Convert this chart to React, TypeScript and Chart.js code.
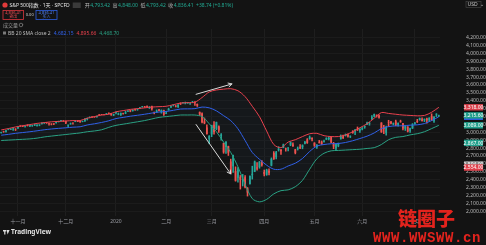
import React, { useEffect, useRef } from 'react';
import { Chart, registerables } from 'chart.js';

Chart.register(...registerables);

// ---------- DATA ----------
const dates: string[] = [
  '2019-10-23','2019-10-24','2019-10-25','2019-10-28','2019-10-29','2019-10-30','2019-10-31',
  '2019-11-01','2019-11-04','2019-11-05','2019-11-06','2019-11-07','2019-11-08','2019-11-11','2019-11-12','2019-11-13','2019-11-14','2019-11-15','2019-11-18','2019-11-19','2019-11-20','2019-11-21','2019-11-22','2019-11-25','2019-11-26','2019-11-27','2019-11-29',
  '2019-12-02','2019-12-03','2019-12-04','2019-12-05','2019-12-06','2019-12-09','2019-12-10','2019-12-11','2019-12-12','2019-12-13','2019-12-16','2019-12-17','2019-12-18','2019-12-19','2019-12-20','2019-12-23','2019-12-24','2019-12-26','2019-12-27','2019-12-30','2019-12-31',
  '2020-01-02','2020-01-03','2020-01-06','2020-01-07','2020-01-08','2020-01-09','2020-01-10','2020-01-13','2020-01-14','2020-01-15','2020-01-16','2020-01-17','2020-01-21','2020-01-22','2020-01-23','2020-01-24','2020-01-27','2020-01-28','2020-01-29','2020-01-30','2020-01-31',
  '2020-02-03','2020-02-04','2020-02-05','2020-02-06','2020-02-07','2020-02-10','2020-02-11','2020-02-12','2020-02-13','2020-02-14','2020-02-18','2020-02-19','2020-02-20','2020-02-21','2020-02-24','2020-02-25','2020-02-26','2020-02-27','2020-02-28',
  '2020-03-02','2020-03-03','2020-03-04','2020-03-05','2020-03-06','2020-03-09','2020-03-10','2020-03-11','2020-03-12','2020-03-13','2020-03-16','2020-03-17','2020-03-18','2020-03-19','2020-03-20','2020-03-23','2020-03-24','2020-03-25','2020-03-26','2020-03-27','2020-03-30','2020-03-31',
  '2020-04-01','2020-04-02','2020-04-03','2020-04-06','2020-04-07','2020-04-08','2020-04-09','2020-04-13','2020-04-14','2020-04-15','2020-04-16','2020-04-17','2020-04-20','2020-04-21','2020-04-22','2020-04-23','2020-04-24','2020-04-27','2020-04-28','2020-04-29','2020-04-30',
  '2020-05-01','2020-05-04','2020-05-05','2020-05-06','2020-05-07','2020-05-08','2020-05-11','2020-05-12','2020-05-13','2020-05-14','2020-05-15','2020-05-18','2020-05-19','2020-05-20','2020-05-21','2020-05-22','2020-05-26','2020-05-27','2020-05-28','2020-05-29',
  '2020-06-01','2020-06-02','2020-06-03','2020-06-04','2020-06-05','2020-06-08','2020-06-09','2020-06-10','2020-06-11','2020-06-12','2020-06-15','2020-06-16','2020-06-17','2020-06-18','2020-06-19','2020-06-22','2020-06-23','2020-06-24','2020-06-25','2020-06-26','2020-06-29','2020-06-30',
  '2020-07-01','2020-07-02','2020-07-06','2020-07-07','2020-07-08','2020-07-09','2020-07-10','2020-07-13','2020-07-14','2020-07-15','2020-07-16',
];

const opens: number[] = [
  2994.0, 3014.8, 3003.3, 3032.1, 3035.4, 3039.7, 3046.9,
  3050.7, 3078.9, 3080.8, 3075.1, 3087.0, 3081.3, 3080.3, 3089.3, 3084.2, 3090.8, 3107.9, 3117.9, 3127.5, 3114.7, 3108.5, 3111.4, 3117.4, 3134.9, 3145.5, 3147.2,
  3143.9, 3087.4, 3103.5, 3119.2, 3134.6, 3141.9, 3135.4, 3135.8, 3141.2, 3166.7, 3183.6, 3195.4, 3195.2, 3192.3, 3223.3, 3226.1, 3225.5, 3227.2, 3247.2, 3240.1, 3215.2,
  3244.7, 3226.4, 3217.6, 3241.9, 3238.6, 3266.0, 3281.0, 3271.1, 3285.4, 3282.3, 3303.0, 3323.7, 3321.0, 3330.0, 3315.8, 3333.1, 3247.2, 3255.4, 3289.5, 3256.5, 3282.3,
  3235.7, 3280.6, 3324.9, 3344.9, 3335.5, 3318.3, 3365.9, 3370.5, 3365.9, 3378.1, 3369.0, 3380.4, 3380.5, 3360.5, 3257.6, 3238.9, 3139.9, 3062.5, 2916.9,
  2974.3, 3096.5, 3045.8, 3075.7, 2954.2, 2863.9, 2813.5, 2825.6, 2630.9, 2570.0, 2508.6, 2425.7, 2436.5, 2393.5, 2431.9, 2290.7, 2344.4, 2457.8, 2501.3, 2555.9, 2559.0, 2614.7,
  2498.1, 2458.5, 2514.9, 2578.3, 2738.7, 2685.0, 2777.0, 2782.5, 2805.1, 2795.6, 2799.3, 2842.4, 2845.6, 2784.8, 2787.9, 2810.4, 2812.6, 2854.7, 2910.0, 2918.5, 2930.9,
  2869.1, 2815.0, 2868.9, 2883.1, 2878.3, 2908.8, 2915.5, 2939.5, 2865.9, 2794.5, 2829.9, 2913.9, 2948.6, 2953.6, 2970.0, 2948.0, 3004.1, 3015.7, 3046.6, 3025.2,
  3038.8, 3064.2, 3098.9, 3111.6, 3163.8, 3199.9, 3213.3, 3213.4, 3123.5, 3071.0, 2993.8, 3131.0, 3136.1, 3101.6, 3140.3, 3094.4, 3138.7, 3114.4, 3046.6, 3073.2, 3018.6, 3050.2,
  3105.9, 3143.6, 3155.3, 3166.4, 3153.1, 3176.2, 3152.5, 3205.1, 3141.1, 3226.0, 3208.4,
];

const highs: number[] = [
  3004.8, 3016.1, 3027.4, 3044.1, 3047.9, 3050.1, 3046.9,
  3066.9, 3085.2, 3083.9, 3078.3, 3097.8, 3093.1, 3088.3, 3102.6, 3098.1, 3098.2, 3120.5, 3124.2, 3127.6, 3118.9, 3110.1, 3112.9, 3133.8, 3142.7, 3154.3, 3150.3,
  3144.3, 3094.9, 3119.4, 3119.4, 3150.6, 3148.9, 3142.1, 3143.9, 3176.3, 3182.7, 3197.7, 3198.2, 3198.5, 3205.5, 3225.7, 3227.8, 3226.4, 3240.1, 3247.9, 3240.9, 3231.7,
  3258.1, 3246.2, 3246.8, 3244.9, 3267.1, 3275.6, 3282.0, 3288.1, 3294.2, 3298.7, 3317.1, 3329.9, 3329.8, 3337.8, 3326.9, 3333.2, 3258.9, 3285.8, 3293.5, 3285.9, 3282.3,
  3268.4, 3306.9, 3337.6, 3348.0, 3341.4, 3352.3, 3375.6, 3381.5, 3385.1, 3380.7, 3375.0, 3393.5, 3389.2, 3360.8, 3259.8, 3247.0, 3182.5, 3097.1, 2959.7,
  3091.0, 3136.7, 3131.0, 3083.0, 2985.9, 2863.9, 2882.6, 2825.6, 2660.9, 2711.3, 2563.0, 2553.9, 2453.6, 2467.0, 2453.0, 2300.7, 2449.7, 2571.4, 2637.0, 2615.9, 2631.8, 2641.4,
  2522.8, 2533.2, 2538.2, 2676.9, 2756.9, 2760.8, 2818.6, 2782.5, 2851.9, 2801.9, 2806.5, 2879.2, 2869.0, 2785.5, 2815.1, 2844.9, 2842.7, 2887.7, 2921.2, 2954.9, 2930.9,
  2869.1, 2844.2, 2898.2, 2891.1, 2901.9, 2932.2, 2944.3, 2945.8, 2874.1, 2852.8, 2865.0, 2968.1, 2964.2, 2980.3, 2978.5, 2956.8, 3021.7, 3036.3, 3068.7, 3049.2,
  3062.2, 3081.1, 3130.9, 3128.9, 3211.7, 3233.1, 3222.7, 3223.3, 3123.5, 3088.4, 3079.8, 3153.5, 3141.2, 3120.0, 3155.5, 3120.9, 3154.9, 3115.0, 3086.3, 3073.7, 3053.9, 3111.5,
  3128.4, 3165.8, 3182.6, 3184.2, 3171.8, 3179.8, 3186.8, 3235.3, 3201.0, 3238.3, 3220.4,
];

const lows: number[] = [
  2991.2, 3000.4, 3001.9, 3032.1, 3034.8, 3025.9, 3023.2,
  3050.7, 3074.9, 3072.2, 3065.9, 3080.3, 3073.6, 3075.8, 3084.7, 3078.8, 3083.3, 3104.6, 3112.1, 3113.5, 3091.4, 3094.6, 3099.3, 3117.4, 3131.0, 3143.4, 3139.3,
  3110.8, 3070.3, 3102.5, 3103.8, 3134.6, 3135.5, 3126.1, 3133.2, 3138.5, 3156.5, 3183.6, 3191.0, 3191.1, 3192.3, 3216.0, 3222.3, 3220.5, 3227.2, 3234.4, 3216.6, 3212.0,
  3235.5, 3222.3, 3214.6, 3232.4, 3236.7, 3263.7, 3260.9, 3268.4, 3277.6, 3280.7, 3302.8, 3318.9, 3316.6, 3320.0, 3301.9, 3281.5, 3234.5, 3253.2, 3271.9, 3242.8, 3214.7,
  3235.7, 3280.6, 3313.8, 3334.4, 3322.1, 3317.8, 3352.7, 3369.7, 3360.5, 3367.0, 3355.6, 3378.8, 3341.0, 3328.5, 3214.7, 3118.8, 3109.0, 2977.4, 2855.8,
  2945.2, 2976.6, 3034.4, 2999.8, 2901.5, 2734.4, 2734.0, 2707.2, 2478.9, 2492.4, 2380.9, 2367.0, 2280.5, 2319.8, 2295.6, 2191.9, 2344.4, 2407.5, 2500.7, 2520.0, 2545.3, 2571.2,
  2447.5, 2455.8, 2460.0, 2574.6, 2657.7, 2663.3, 2762.4, 2721.2, 2805.1, 2761.5, 2764.3, 2830.9, 2820.4, 2727.1, 2776.0, 2794.3, 2791.8, 2852.9, 2860.7, 2912.2, 2892.5,
  2821.6, 2797.9, 2863.6, 2847.7, 2876.5, 2908.8, 2903.4, 2869.6, 2793.2, 2766.6, 2816.8, 2913.9, 2922.4, 2953.6, 2938.6, 2933.6, 2988.2, 2969.8, 3023.4, 2998.6,
  3031.5, 3051.6, 3098.9, 3090.4, 3163.8, 3196.0, 3193.1, 3181.5, 2999.5, 2984.5, 2965.7, 3076.1, 3108.0, 3093.5, 3083.1, 3079.4, 3127.1, 3032.1, 3024.0, 3004.6, 2999.7, 3047.8,
  3101.0, 3124.5, 3155.3, 3142.9, 3136.5, 3115.7, 3136.2, 3149.4, 3127.7, 3200.8, 3198.6,
];

const closes: number[] = [
  3004.5, 3010.3, 3022.6, 3039.4, 3036.9, 3046.8, 3037.6,
  3066.9, 3078.3, 3074.6, 3076.8, 3085.2, 3093.1, 3087.0, 3091.8, 3094.0, 3096.6, 3120.5, 3122.0, 3120.2, 3108.5, 3103.5, 3110.3, 3133.6, 3140.5, 3153.6, 3141.0,
  3113.9, 3093.2, 3112.8, 3117.4, 3145.9, 3136.0, 3132.5, 3141.6, 3168.6, 3168.8, 3191.5, 3192.5, 3191.1, 3205.4, 3221.2, 3224.0, 3223.4, 3239.9, 3240.0, 3221.3, 3230.8,
  3257.9, 3234.9, 3246.3, 3237.2, 3253.1, 3274.7, 3265.4, 3288.1, 3283.2, 3289.3, 3316.8, 3329.6, 3320.8, 3321.8, 3325.5, 3295.5, 3243.6, 3276.2, 3273.4, 3283.7, 3225.5,
  3248.9, 3297.6, 3334.7, 3345.8, 3327.7, 3352.1, 3357.8, 3379.5, 3373.9, 3380.2, 3370.3, 3386.2, 3373.2, 3337.8, 3225.9, 3128.2, 3116.4, 2978.8, 2954.2,
  3090.2, 3003.4, 3130.1, 3023.9, 2972.4, 2746.6, 2882.2, 2741.4, 2480.6, 2711.0, 2386.1, 2529.2, 2398.1, 2409.4, 2304.9, 2237.4, 2447.3, 2475.6, 2630.1, 2541.5, 2626.7, 2584.6,
  2470.5, 2526.9, 2488.7, 2663.7, 2659.4, 2750.0, 2789.8, 2761.6, 2846.1, 2783.4, 2799.6, 2874.6, 2823.2, 2736.6, 2799.3, 2797.8, 2836.7, 2878.5, 2863.4, 2939.5, 2912.4,
  2830.7, 2842.7, 2868.4, 2848.4, 2881.2, 2929.8, 2930.3, 2870.1, 2820.0, 2852.5, 2863.7, 2953.9, 2922.9, 2971.6, 2948.5, 2955.5, 2991.8, 3036.1, 3029.7, 3044.3,
  3055.7, 3080.8, 3122.9, 3112.4, 3193.9, 3232.4, 3207.2, 3190.1, 3002.1, 3041.3, 3066.6, 3124.7, 3113.5, 3115.3, 3097.7, 3117.9, 3131.3, 3050.3, 3083.8, 3009.1, 3053.2, 3100.3,
  3115.9, 3130.0, 3179.7, 3145.3, 3169.9, 3152.1, 3185.0, 3155.2, 3197.5, 3226.6, 3215.6,
];

// Bollinger band (20, SMA, close, 2) values read at every third session
const bandIndex: number[] = [0,3,6,9,12,15,18,21,24,27,30,33,36,39,42,45,48,51,54,57,60,63,66,69,72,75,78,81,84,87,90,93,96,99,102,105,108,111,114,117,120,123,126,129,132,135,138,141,144,147,150,153,156,159,162,165,168,171,174,177,180,183];
const bbUpper: number[] = [3031,3048,3069,3084,3099,3114,3124,3134,3139,3144,3150,3150,3180,3200,3220,3230,3261,3276,3291,3301,3311,3321,3326,3331,3351,3372,3377,3382,3442,3513,3538,3548,3554,3528,3453,3331,3200,3018,2846,2806,2877,2907,2947,2983,2988,2958,2947,2947,2968,3008,3059,3109,3180,3251,3240,3230,3220,3215,3210,3215,3255,3318];
const bbBasis: number[] = [2964,2975,2988,2998,3008,3020,3033,3043,3051,3058,3066,3071,3094,3109,3126,3147,3175,3190,3205,3217,3230,3245,3258,3265,3280,3296,3298,3301,3321,3311,3273,3212,3149,3046,2897,2745,2659,2584,2533,2533,2574,2609,2669,2758,2826,2846,2856,2859,2872,2894,2922,2952,2993,3048,3073,3083,3083,3091,3096,3112,3150,3198];
const bbLower: number[] = [2897,2902,2907,2912,2917,2927,2942,2953,2963,2973,2983,2993,3008,3018,3033,3064,3089,3104,3119,3134,3150,3170,3190,3200,3210,3220,3220,3220,3200,3109,3008,2877,2745,2564,2341,2160,2119,2150,2220,2261,2271,2311,2392,2533,2665,2735,2766,2771,2776,2781,2786,2796,2806,2846,2907,2937,2947,2968,2983,3008,3048,3089];

// extra price markers shown on the price scale
const markerValues: number[] = [2867, 2594, 2554];
const markerColors: string[] = ['#1f9e8a', '#8c8c8c', '#e0404b'];

const yTickValues: number[] = [2000,2100,2200,2300,2400,2500,2600,2700,2800,2900,3000,3100,3200,3300,3400,3500,3600,3700,3800,3900,4000,4100,4200];
const monthNames: Record<string, string> = {
  '01': '2020', '02': '二月', '03': '三月', '04': '四月', '05': '五月', '06': '六月',
  '07': '七月', '08': '八月', '09': '九月', '10': '十月', '11': '十一月', '12': '十二月',
};

// hand-drawn arrows (session index, price)
const arrowFromIdx: number[] = [81.5, 81.5];
const arrowFromVal: number[] = [3483, 3099];
const arrowToIdx: number[] = [96.5, 96];
const arrowToVal: number[] = [3614, 2473];

const titleText = 'S&P 500指数 · 1天 · SPCFD';
const ohlcLabels: string[] = ['开', '高', '低', '收'];
const ohlcValues: string[] = ['4,793.42', '4,848.00', '4,793.42', '4,836.41'];
const changeText = '+38.74 (+0.81%)';
const sellPrice = '4,836.41';
const buyPrice = '4,836.41';
const spreadText = '0.00';
const bbTitle = 'BB 20 SMA close 2';
const bbLegendValues: string[] = ['4,682.15', '4,895.66', '4,468.70'];

// ---------- STYLE ----------
const W = 486, H = 245;
const BG = '#131313';
const UP = '#26a69a', DOWN = '#ef5350';
const C_UPPER = '#e8414d', C_BASIS = '#3060e8', C_LOWER = '#2aa183';
const FONT = '"Noto Sans", "Noto Sans CJK SC", sans-serif';
const Y_MAX = 4311.0, Y_MIN = 1939.5;

function monthLabel(i: number): string | null {
  if (i <= 0) return null;
  const m = dates[i].slice(5, 7), pm = dates[i - 1].slice(5, 7);
  return m === pm ? null : monthNames[m];
}
const fmt = (v: number) => v.toLocaleString('en-US', { minimumFractionDigits: 2, maximumFractionDigits: 2 });

const bgPlugin = {
  id: 'bg',
  beforeDraw(chart: any) {
    const c = chart.ctx;
    c.save();
    c.fillStyle = BG;
    c.fillRect(0, 0, chart.width, chart.height);
    c.restore();
  },
};

const overlayPlugin = {
  id: 'overlay',
  afterDraw(chart: any) {
    const ctx = chart.ctx as CanvasRenderingContext2D;
    const xs = chart.scales.x, ys = chart.scales.y;
    const area = chart.chartArea;
    ctx.save();

    // arrows
    ctx.strokeStyle = '#d9d9d9';
    ctx.lineWidth = 1;
    ctx.lineCap = 'round';
    for (let k = 0; k < arrowFromIdx.length; k++) {
      const x1 = xs.getPixelForValue(arrowFromIdx[k]), y1 = ys.getPixelForValue(arrowFromVal[k]);
      const x2 = xs.getPixelForValue(arrowToIdx[k]), y2 = ys.getPixelForValue(arrowToVal[k]);
      ctx.beginPath(); ctx.moveTo(x1, y1); ctx.lineTo(x2, y2); ctx.stroke();
      const a = Math.atan2(y2 - y1, x2 - x1), L = 4;
      ctx.beginPath();
      ctx.moveTo(x2 - L * Math.cos(a - 0.5), y2 - L * Math.sin(a - 0.5));
      ctx.lineTo(x2, y2);
      ctx.lineTo(x2 - L * Math.cos(a + 0.5), y2 - L * Math.sin(a + 0.5));
      ctx.stroke();
    }

    // price tags on the right axis
    const n = closes.length - 1, b = bbUpper.length - 1;
    const tags: [number, string][] = [
      [bbUpper[b], '#d8404b'],
      [bbBasis[b], '#2f5fe0'],
      [closes[n], '#1f9e8a'],
      [bbLower[b], '#1f9e8a'],
    ];
    markerValues.forEach((v, k) => tags.push([v, markerColors[k]]));
    ctx.font = `5px ${FONT}`;
    ctx.textAlign = 'center';
    ctx.textBaseline = 'middle';
    for (const [v, col] of tags) {
      const py = ys.getPixelForValue(v);
      ctx.fillStyle = col;
      ctx.fillRect(area.right + 24, py - 3.2, 19, 6.4);
      ctx.fillStyle = '#ffffff';
      ctx.fillText(fmt(v), area.right + 33.5, py + 0.3);
    }

    // USD box
    ctx.strokeStyle = '#4a4a4a';
    ctx.lineWidth = 0.6;
    ctx.strokeRect(area.right + 26, 1.5, 15, 6);
    ctx.fillStyle = '#c8c8c8';
    ctx.textAlign = 'left';
    ctx.fillText('USD  ⌄', area.right + 27.5, 4.8);

    // header legend
    ctx.textBaseline = 'middle';
    ctx.fillStyle = '#e03a3a';
    ctx.beginPath(); ctx.arc(5, 5, 2.6, 0, Math.PI * 2); ctx.fill();
    ctx.fillStyle = '#e6e6e6';
    ctx.font = `5px ${FONT}`;
    ctx.fillText(titleText, 9.5, 5.2);
    let tx = 9.5 + ctx.measureText(titleText).width + 3;
    ctx.fillStyle = '#3a3a3a';
    ctx.fillRect(tx, 2.5, 8, 5.5);
    tx += 12;
    for (let k = 0; k < 4; k++) {
      ctx.fillStyle = '#bdbdbd';
      ctx.fillText(ohlcLabels[k], tx, 5.2);
      tx += ctx.measureText(ohlcLabels[k]).width + 0.5;
      ctx.fillStyle = '#22ab94';
      ctx.fillText(ohlcValues[k], tx, 5.2);
      tx += ctx.measureText(ohlcValues[k]).width + 2.5;
    }
    ctx.fillStyle = '#22ab94';
    ctx.fillText(changeText, tx, 5.2);

    // sell / buy boxes
    ctx.lineWidth = 0.8;
    ctx.strokeStyle = '#d9363e';
    ctx.strokeRect(3, 10.5, 20.5, 9);
    ctx.strokeStyle = '#2f5fe0';
    ctx.strokeRect(36, 10.5, 21, 9);
    ctx.font = `4px ${FONT}`;
    ctx.textAlign = 'center';
    ctx.fillStyle = '#ef4a52';
    ctx.fillText(sellPrice, 13.2, 13.2);
    ctx.fillText('卖出', 13.2, 17.3);
    ctx.fillStyle = '#4d7cf0';
    ctx.fillText(buyPrice, 46.5, 13.2);
    ctx.fillText('买入', 46.5, 17.3);
    ctx.fillStyle = '#cfcfcf';
    ctx.fillText(spreadText, 29.7, 15);

    // volume row
    ctx.textAlign = 'left';
    ctx.font = `5px ${FONT}`;
    ctx.fillStyle = '#9a9a9a';
    ctx.fillText('成交量', 3, 25.3);
    ctx.strokeStyle = '#9a9a9a';
    ctx.lineWidth = 0.6;
    ctx.beginPath(); ctx.arc(21, 25, 1.8, 0, Math.PI * 2); ctx.stroke();

    // BB row
    ctx.fillStyle = '#7a7a7a';
    ctx.fillRect(3, 31.5, 3, 3);
    ctx.fillStyle = '#bdbdbd';
    ctx.fillText(bbTitle, 8, 33.3);
    let bx = 8 + ctx.measureText(bbTitle).width + 3;
    const bbCols = [C_BASIS, C_UPPER, C_LOWER];
    for (let k = 0; k < 3; k++) {
      ctx.fillStyle = bbCols[k];
      ctx.fillText(bbLegendValues[k], bx, 33.3);
      bx += ctx.measureText(bbLegendValues[k]).width + 3;
    }

    // TradingView logo
    ctx.fillStyle = '#e0e0e0';
    ctx.fillRect(3, 230, 3.2, 1.5);
    ctx.fillRect(4.2, 230, 1.2, 4.5);
    ctx.beginPath(); ctx.moveTo(6.5, 230); ctx.lineTo(9.6, 230); ctx.lineTo(7.6, 234.5); ctx.closePath(); ctx.fill();
    ctx.font = `bold 6.5px ${FONT}`;
    ctx.fillText('TradingView', 11, 232.4);

    // watermark
    ctx.fillStyle = '#e3231d';
    ctx.font = `900 19px "Noto Sans CJK SC", sans-serif`;
    ctx.textBaseline = 'alphabetic';
    ctx.fillText('链圈子', 398, 226);
    ctx.font = `bold 14px "Liberation Mono", monospace`;
    (ctx as any).letterSpacing = '0.6px';
    ctx.fillText('WWW.WWSWW.cn', 373, 242);

    ctx.restore();
  },
};

export default function App() {
  const ref = useRef<HTMLCanvasElement | null>(null);

  useEffect(() => {
    if (!ref.current) return;
    const candleCol = opens.map((o, i) => (closes[i] >= o ? UP : DOWN));
    const bandPoints = (arr: number[]) => bandIndex.map((idx, k) => ({ x: dates[idx], y: arr[k] }));

    const chart = new Chart(ref.current, {
      type: 'bar',
      data: {
        labels: dates,
        datasets: [
          {
            type: 'line', label: 'upper', data: bandPoints(bbUpper) as any,
            borderColor: C_UPPER, borderWidth: 1, pointRadius: 0, tension: 0.3,
            fill: 2, backgroundColor: 'rgba(60,110,170,0.05)', order: 0,
          },
          {
            type: 'line', label: 'basis', data: bandPoints(bbBasis) as any,
            borderColor: C_BASIS, borderWidth: 1, pointRadius: 0, tension: 0.3, fill: false, order: 0,
          },
          {
            type: 'line', label: 'lower', data: bandPoints(bbLower) as any,
            borderColor: C_LOWER, borderWidth: 1, pointRadius: 0, tension: 0.3, fill: false, order: 0,
          },
          {
            type: 'bar', label: 'wick', data: lows.map((l, i) => [l, highs[i]]) as any,
            backgroundColor: candleCol, barThickness: 0.9, grouped: false, order: 2,
          },
          {
            type: 'bar', label: 'body', data: opens.map((o, i) => [o, closes[i]]) as any,
            backgroundColor: candleCol, barPercentage: 0.72, categoryPercentage: 1,
            grouped: false, minBarLength: 0.6, order: 1,
          },
        ],
      },
      options: {
        responsive: false,
        animation: false,
        devicePixelRatio: 1,
        layout: { padding: 0 },
        plugins: {
          legend: { display: false },
          tooltip: { enabled: false },
          filler: { drawTime: 'beforeDatasetsDraw' } as any,
        },
        scales: {
          x: {
            type: 'category',
            offset: true,
            grid: { display: true, offset: false, color: '#1e1e1e', lineWidth: 1, drawTicks: false },
            border: { display: false },
            ticks: {
              autoSkip: false, maxRotation: 0, minRotation: 0, padding: 3,
              color: '#9a9ca3',
              font: (c: any) => ({ size: 5, family: FONT, weight: monthLabel(c.index) === '2020' ? 'bold' : 'normal' }),
              callback: (_v: any, i: number) => monthLabel(i),
            },
            afterFit: (s: any) => { s.height = 10; },
          },
          y: {
            type: 'linear',
            position: 'right',
            min: Y_MIN, max: Y_MAX,
            grid: { color: '#1b1b1b', drawTicks: false },
            border: { display: false },
            ticks: {
              color: '#b8b8b8', padding: 26, font: { size: 5, family: FONT },
              crossAlign: 'center',
              callback: (v: any) => fmt(Number(v)),
            },
            afterBuildTicks: (s: any) => { s.ticks = yTickValues.map((v) => ({ value: v })); },
            afterFit: (s: any) => { s.width = 46; },
          },
        },
      },
      plugins: [bgPlugin, overlayPlugin],
    });
    return () => chart.destroy();
  }, []);

  return (
    <div style={{ position: 'fixed', left: 0, top: 0, width: W, height: H, background: BG }}>
      <canvas ref={ref} width={W} height={H} style={{ display: 'block', width: W, height: H }} />
    </div>
  );
}
